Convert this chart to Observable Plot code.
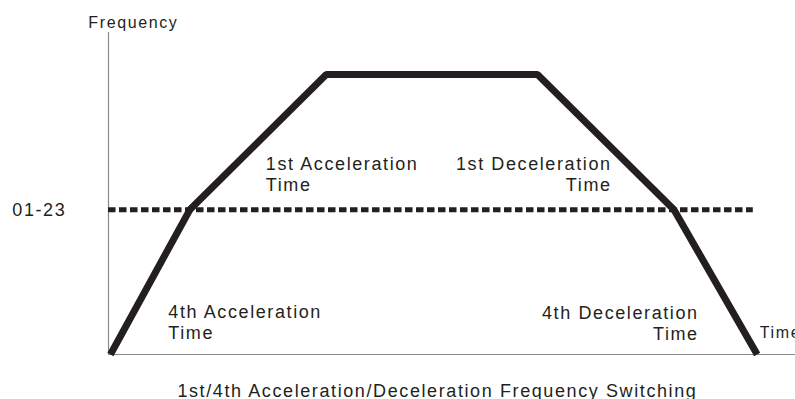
<!DOCTYPE html>
<html>
<head>
<meta charset="utf-8">
<script src="https://cdn.jsdelivr.net/npm/d3@7"></script>
<script src="https://cdn.jsdelivr.net/npm/@observablehq/plot@0.6"></script>
<style>
  html, body { margin: 0; padding: 0; background: #fff; }
  #chart svg text { letter-spacing: 1.6px; }
</style>
</head>
<body>
<div id="chart"></div>
<script>
// Frequency profile (time units, frequency units)
const profileTimes = [0.03, 1.25, 3.35, 6.6, 8.7, 9.98];
const profileFreqs = [0, 31, 60, 60, 31, 0];

// Switching frequency (parameter 01-23)
const switchFreq = 31;
const switchLabel = "01-23";
const switchLabelTime = -1.48;
const switchLineEnd = 9.92;

// Axis extents
const axisTimeEnd = 10.6;
const axisFreqTop = 69;
const yAxisLabel = "Frequency";
const yAxisLabelPos = [-0.31, 72.4];
const xAxisLabel = "Time";
const xAxisLabelPos = [10.02, 5.9];

// Annotations, left-aligned
const startLabels = ["1st Acceleration\nTime", "4th Acceleration\nTime"];
const startLabelTimes = [2.42, 0.92];
const startLabelFreqs = [42.6, 11.0];

// Annotations, right-aligned
const endLabels = ["1st Deceleration\nTime", "4th Deceleration\nTime"];
const endLabelTimes = [7.74, 9.08];
const endLabelFreqs = [42.6, 10.7];

const caption = "1st/4th Acceleration/Deceleration Frequency Switching";
const captionPos = [5.06, -7.9];

const profile = profileTimes.map((t, i) => ({t, f: profileFreqs[i]}));
const starts = startLabels.map((text, i) => ({text, t: startLabelTimes[i], f: startLabelFreqs[i]}));
const ends = endLabels.map((text, i) => ({text, t: endLabelTimes[i], f: endLabelFreqs[i]}));

const ink = "#231f20";

const chart = Plot.plot({
  width: 795,
  height: 399,
  margin: 0,
  x: {domain: [0, 10], range: [108, 758], axis: null},
  y: {domain: [0, 60], range: [354, 74], axis: null},
  style: {fontFamily: "'Liberation Sans', Arial, sans-serif", background: "#fff", color: ink},
  marks: [
    Plot.ruleX([0], {y1: 0, y2: axisFreqTop, stroke: "#8a8a8a", strokeWidth: 1.2}),
    Plot.ruleY([0], {x1: 0, x2: axisTimeEnd, stroke: "#8a8a8a", strokeWidth: 1.2}),
    Plot.ruleY([switchFreq], {x1: 0, x2: switchLineEnd, stroke: ink, strokeWidth: 5, strokeDasharray: "7.5,3.5"}),
    Plot.line(profile, {x: "t", y: "f", stroke: ink, strokeWidth: 7, strokeLinejoin: "miter", strokeLinecap: "butt"}),
    Plot.text(starts, {x: "t", y: "f", text: "text", textAnchor: "start", lineAnchor: "top", fontSize: 18, lineHeight: 1.15, fill: ink}),
    Plot.text(ends, {x: "t", y: "f", text: "text", textAnchor: "end", lineAnchor: "top", fontSize: 18, lineHeight: 1.15, fill: ink}),
    Plot.text([switchLabel], {x: switchLabelTime, y: switchFreq, text: d => d, textAnchor: "start", lineAnchor: "middle", fontSize: 18, fill: ink}),
    Plot.text([yAxisLabel], {x: yAxisLabelPos[0], y: yAxisLabelPos[1], text: d => d, textAnchor: "start", lineAnchor: "top", fontSize: 16, fill: ink}),
    Plot.text([xAxisLabel], {x: xAxisLabelPos[0], y: xAxisLabelPos[1], text: d => d, textAnchor: "start", lineAnchor: "top", fontSize: 16, fill: ink}),
    Plot.text([caption], {x: captionPos[0], y: captionPos[1], text: d => d, textAnchor: "middle", lineAnchor: "middle", fontSize: 18, fill: ink})
  ]
});
document.getElementById("chart").appendChild(chart);
</script>
</body>
</html>
